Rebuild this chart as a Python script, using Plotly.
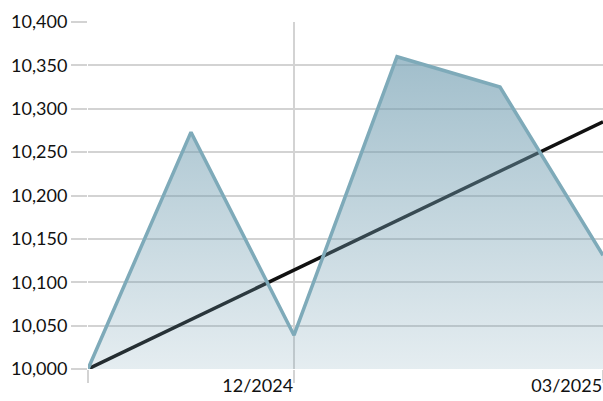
import plotly.graph_objects as go

months = ["10/2024", "11/2024", "12/2024", "01/2025", "02/2025", "03/2025"]
portfolio = [10000, 10273, 10039, 10360, 10325, 10131]
benchmark = [10000, 10057, 10114, 10171, 10228, 10285]
tick_vals = ["10/2024", "12/2024", "03/2025"]
tick_text = ["", "12/2024", "03/2025"]
y_ticks = [10000, 10050, 10100, 10150, 10200, 10250, 10300, 10350, 10400]

fig = go.Figure()
fig.add_trace(go.Scatter(
    x=months, y=benchmark, mode="lines",
    line=dict(color="#111111", width=3.5), hoverinfo="skip", showlegend=False))
fig.add_trace(go.Scatter(
    x=months, y=portfolio, mode="lines",
    line=dict(color="#7eaab9", width=3.5),
    fill="tozeroy",
    fillgradient=dict(
        type="vertical",
        colorscale=[[0, "rgba(110,155,175,0.18)"], [1, "rgba(110,155,175,0.65)"]],
        start=10000, stop=10360),
    showlegend=False))

grid = "#d3d3d3"
fig.update_layout(
    width=603, height=401,
    margin=dict(l=88, r=0, t=22, b=32, autoexpand=False),
    paper_bgcolor="white", plot_bgcolor="white",
    font=dict(family="Lato, Carlito, sans-serif", size=18, color="#111111"),
    xaxis=dict(
        type="category", range=[0, 5], automargin=False,
        tickvals=tick_vals, ticktext=tick_text,
        showgrid=True, gridcolor=grid, gridwidth=1.8,
        ticks="outside", ticklen=13, tickcolor=grid, tickwidth=1.8,
        ticklabelposition="outside left",
        showline=False, zeroline=False),
    yaxis=dict(
        range=[10000, 10400], tickvals=y_ticks, tickformat=",", automargin=False,
        showgrid=True, gridcolor=grid, gridwidth=1.8,
        ticks="outside", ticklen=16, tickcolor=grid, tickwidth=1.8,
        showline=False, zeroline=False),
)

fig.write_html("out.html", config={"displayModeBar": False},
               post_script="document.body.style.margin='0';document.body.style.overflow='hidden';")
